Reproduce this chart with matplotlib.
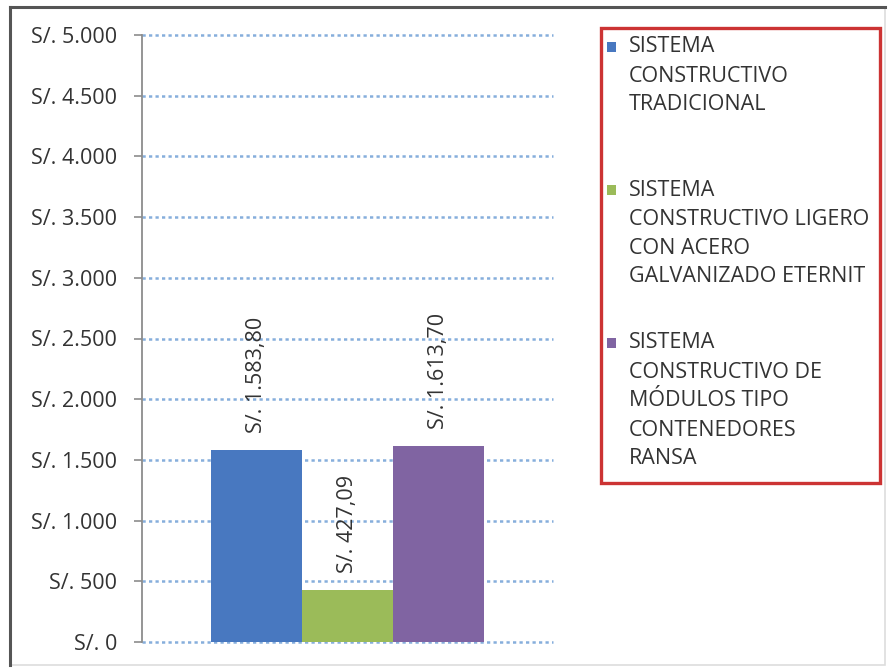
import matplotlib
matplotlib.use("Agg")
import matplotlib.pyplot as plt
from matplotlib.patches import Rectangle
from matplotlib.ticker import FuncFormatter

plt.rcParams['font.family'] = ['Open Sans', 'DejaVu Sans']

# Cost per system (S/.)
series_names = [
    "SISTEMA\nCONSTRUCTIVO\nTRADICIONAL",
    "SISTEMA\nCONSTRUCTIVO LIGERO\nCON ACERO\nGALVANIZADO ETERNIT",
    "SISTEMA\nCONSTRUCTIVO DE\nMÓDULOS TIPO\nCONTENEDORES\nRANSA",
]
costs = [1583.80, 427.09, 1613.70]
value_labels = ["S/. 1.583,80", "S/. 427,09", "S/. 1.613,70"]
colors = ["#4878c0", "#9bbb59", "#8064a2"]
y_ticks = [0, 500, 1000, 1500, 2000, 2500, 3000, 3500, 4000, 4500, 5000]

W, H = 888, 669
FS = 15.5
fig = plt.figure(figsize=(W / 100, H / 100), dpi=100)
fig.patch.set_facecolor("white")

# outer frame
fig.add_artist(Rectangle((10 / W, 1 - 665 / H), 875 / W, 658 / H,
                         transform=fig.transFigure, fill=False,
                         edgecolor="#dddddd", linewidth=1.2))
fig.add_artist(plt.Line2D([10 / W, 885 / W], [1 - 7 / H, 1 - 7 / H],
                          transform=fig.transFigure, color="#555555", lw=2.2))
fig.add_artist(plt.Line2D([10 / W, 10 / W], [1 - 7 / H, 1 - 665 / H],
                          transform=fig.transFigure, color="#555555", lw=2.2))

ax = fig.add_axes([142 / W, 1 - 642 / H, 411 / W, 607 / H])

n = len(costs)
group_w = 0.662
bw = group_w / n
for i, (c, col) in enumerate(zip(costs, colors)):
    x = -group_w / 2 + bw * (i + 0.5)
    ax.bar(x, c, width=bw, color=col, edgecolor="none", zorder=3)
    ax.annotate(value_labels[i], (x, c), xytext=(0, 12), textcoords="offset points",
                rotation=90, ha="center", va="bottom", fontsize=FS,
                color="#333333", zorder=4)

ax.set_xlim(-0.5, 0.5)
ax.set_ylim(0, 5000)
ax.set_yticks(y_ticks)
ax.yaxis.set_major_formatter(FuncFormatter(
    lambda v, p: "S/. " + f"{int(v):,}".replace(",", ".")))
ax.set_xticks([])

for s in ["top", "bottom", "right"]:
    ax.spines[s].set_visible(False)
ax.spines["left"].set_color("#8c8c8c")
ax.spines["left"].set_linewidth(1.3)
ax.tick_params(axis="y", length=6, width=1.2, color="#8c8c8c",
               labelsize=FS, labelcolor="#333333", pad=12)

ax.yaxis.grid(True, linestyle=(0, (1.3, 1.3)), linewidth=1.8,
              color="#86aedc", zorder=1)
for gl in ax.get_ygridlines():
    gl.set_clip_on(False)
ax.set_axisbelow(True)

# legend panel
fig.add_artist(Rectangle((601 / W, 1 - 483 / H), 279 / W, 455 / H,
                         transform=fig.transFigure, fill=False,
                         edgecolor="#cc3333", linewidth=2.4))
entry_tops = [47, 190, 343]
line_h = 29
for name, col, top in zip(series_names, colors, entry_tops):
    fig.add_artist(Rectangle((607 / W, 1 - (top + 5) / H), 9 / W, 10 / H,
                             transform=fig.transFigure, facecolor=col,
                             edgecolor="none"))
    for k, line in enumerate(name.split("\n")):
        fig.text(629 / W, 1 - (top + k * line_h) / H, line,
                 ha="left", va="center", fontsize=FS, color="#333333")

fig.savefig("out.png", dpi=100)
